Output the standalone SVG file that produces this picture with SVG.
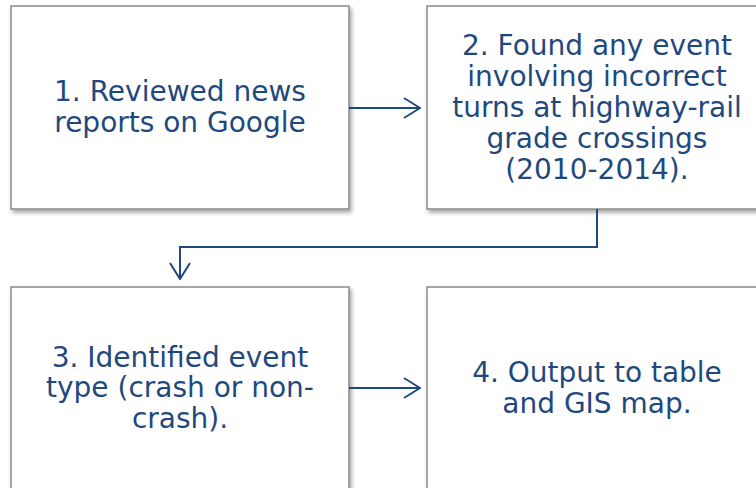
<svg xmlns="http://www.w3.org/2000/svg" width="756" height="488" viewBox="0 0 756 488">
<defs>
<filter id="sh" x="-5%" y="-5%" width="115%" height="115%">
<feDropShadow dx="2" dy="3" stdDeviation="2" flood-color="#000" flood-opacity="0.35"/>
</filter>
<marker id="ah" viewBox="0 0 18 22" refX="17" refY="11" markerWidth="18" markerHeight="22" markerUnits="userSpaceOnUse" orient="auto">
<path d="M1,1 L17,11 L1,21" fill="none" stroke="#1f497d" stroke-width="2"/>
</marker>
<style>
.box{fill:#fff;stroke:#8a8a8a;stroke-width:1.5;filter:url(#sh)}
.t{font-family:"DejaVu Sans",Verdana,sans-serif;font-size:28px;fill:#1f497d;text-anchor:middle}
.c{fill:none;stroke:#1f497d;stroke-width:2}
</style>
</defs>
<g id="node1">
<rect class="box" x="11" y="6" width="338" height="203"/>
<text class="t"><tspan x="180" y="101">1. Reviewed news</tspan><tspan x="180" y="132">reports on Google</tspan></text>
</g>
<g id="node2">
<rect class="box" x="427" y="6" width="338" height="203"/>
<text class="t"><tspan x="597" y="55">2. Found any event</tspan><tspan x="597" y="86">involving incorrect</tspan><tspan x="597" y="117">turns at highway-rail</tspan><tspan x="597" y="148">grade crossings</tspan><tspan x="597" y="179">(2010-2014).</tspan></text>
</g>
<g id="node3">
<rect class="box" x="11" y="287" width="338" height="203"/>
<text class="t"><tspan x="180" y="367">3. Identified event</tspan><tspan x="180" y="397">type (crash or non-</tspan><tspan x="180" y="428">crash).</tspan></text>
</g>
<g id="node4">
<rect class="box" x="427" y="287" width="338" height="203"/>
<text class="t"><tspan x="597" y="382">4. Output to table</tspan><tspan x="597" y="413">and GIS map.</tspan></text>
</g>
<g id="connectors">
<path class="c" d="M349,108 H420" marker-end="url(#ah)"/>
<path class="c" d="M597,209 V247 H180 V279" marker-end="url(#ah)"/>
<path class="c" d="M349,388 H420" marker-end="url(#ah)"/>
</g>
</svg>
